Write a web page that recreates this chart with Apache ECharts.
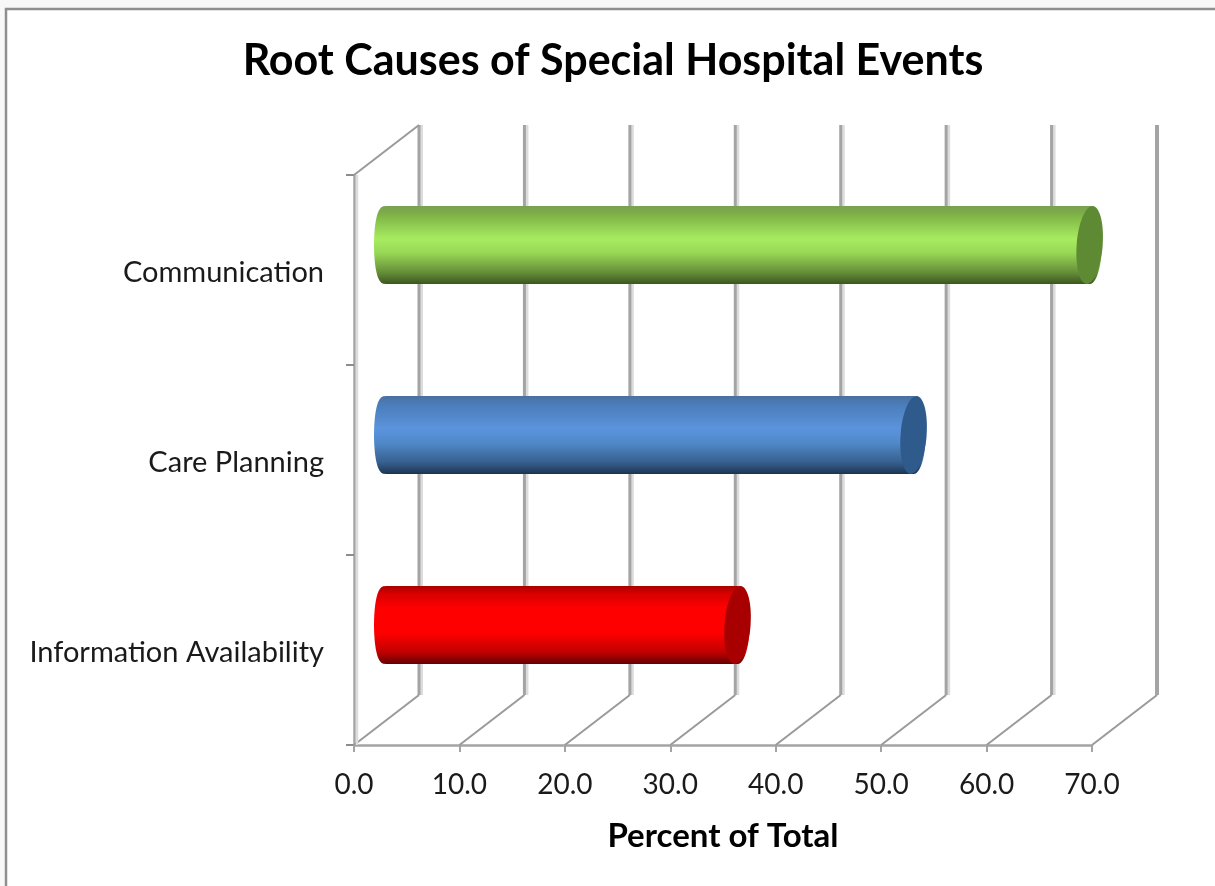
<!DOCTYPE html>
<html>
<head>
<meta charset="utf-8">
<title>Root Causes of Special Hospital Events</title>
<script src="https://cdn.jsdelivr.net/npm/echarts@6/dist/echarts.min.js"></script>
<style>
  html, body { margin: 0; padding: 0; background: #f8f8f9; }
  #chart { width: 1215px; height: 886px; }
</style>
</head>
<body>
<div id="chart"></div>
<script>
// Bottom-to-top order on the category axis
const categories = ['Information Availability', 'Care Planning', 'Communication'];
const percentOfTotal = [33.3, 50.0, 66.7];
const axisTicks = [0, 10, 20, 30, 40, 50, 60, 70];

const bodyStops = [
  [[0, '#a80000'], [0.1, '#d80000'], [0.28, '#ff0000'], [0.6, '#ff0000'], [0.85, '#c00000'], [1, '#650000']],
  [[0, '#4a719f'], [0.1, '#4a7cb8'], [0.42, '#5b94dd'], [0.6, '#5089c9'], [0.85, '#37608f'], [1, '#1c3350']],
  [[0, '#7a9f52'], [0.1, '#7cb044'], [0.42, '#a7ec60'], [0.6, '#98d856'], [0.85, '#668f39'], [1, '#3c561e']]
];
const capColors = ['#a80000', '#2f5a8c', '#5f8a34'];

// Oblique projection of the depth direction
const DEPTH_X = 65;
const DEPTH_Y = -50;
const BAR_HALF_HEIGHT = 39;
const CAP_RX = 13;

function renderWall(params, api) {
  const cs = params.coordSys;
  const bottom = cs.y + cs.height;
  const x = api.coord([api.value(0), 0])[0];
  const backX = x + DEPTH_X;
  const last = params.dataIndex === axisTicks.length - 1;
  const lineStyle = (stroke, w) => ({ stroke: stroke, lineWidth: w, fill: null });
  const children = [
    { type: 'line', shape: { x1: x, y1: bottom, x2: backX, y2: bottom + DEPTH_Y }, style: lineStyle('#9a9a9a', 2) }
  ];
  if (!last) {
    children.push({ type: 'line', shape: { x1: backX + 2.5, y1: cs.y + DEPTH_Y, x2: backX + 2.5, y2: bottom + DEPTH_Y }, style: lineStyle('#dcdcdc', 3) });
  }
  children.push({ type: 'line', shape: { x1: backX, y1: cs.y + DEPTH_Y, x2: backX, y2: bottom + DEPTH_Y }, style: lineStyle('#a4a4a4', last ? 4 : 3) });
  if (params.dataIndex === 0) {
    children.push({ type: 'line', shape: { x1: x, y1: cs.y, x2: backX, y2: cs.y + DEPTH_Y }, style: lineStyle('#9a9a9a', 2) });
    children.push({ type: 'line', shape: { x1: x + 3, y1: cs.y, x2: x + 3, y2: bottom }, style: lineStyle('#dcdcdc', 2.5) });
  }
  return { type: 'group', children: children };
}

function renderCylinder(params, api) {
  const i = params.dataIndex;
  const start = api.coord([0, api.value(1)]);
  const end = api.coord([api.value(0), api.value(1)]);
  const cy = start[1] + DEPTH_Y / 2;
  const x0 = start[0] + DEPTH_X / 2;
  const x1 = end[0] + DEPTH_X / 2;
  // Outline: straight top and bottom edges, far end hidden under the cap,
  // near end slightly squared off
  const points = [];
  const STEPS = 24;
  for (let s = 0; s <= STEPS; s++) {
    const a = -Math.PI / 2 + Math.PI * s / STEPS;
    points.push([x1 + 12 * Math.cos(a), cy + BAR_HALF_HEIGHT * Math.sin(a)]);
  }
  for (let s = 0; s <= STEPS; s++) {
    const a = Math.PI / 2 + Math.PI * s / STEPS;
    const c = Math.cos(a);
    points.push([x0 - 12.5 * Math.pow(Math.abs(c), 0.65), cy + BAR_HALF_HEIGHT * Math.sin(a)]);
  }
  return {
    type: 'group',
    children: [
      {
        type: 'polygon',
        shape: { points: points },
        style: {
          fill: new echarts.graphic.LinearGradient(0, 0, 0, 1,
            bodyStops[i].map(s => ({ offset: s[0], color: s[1] })))
        }
      },
      {
        type: 'ellipse',
        shape: { cx: x1, cy: cy, rx: CAP_RX, ry: BAR_HALF_HEIGHT },
        originX: x1,
        originY: cy,
        rotation: -0.08,
        style: { fill: capColors[i] }
      }
    ]
  };
}

const chart = echarts.init(document.getElementById('chart'));
chart.setOption({
  animation: false,
  backgroundColor: 'transparent',
  graphic: [{
    type: 'rect',
    z: -10,
    silent: true,
    shape: { x: 6, y: 9, width: 1400, height: 1100 },
    style: { fill: '#ffffff', stroke: '#8f8f8f', lineWidth: 2.5 }
  }],
  title: {
    text: 'Root Causes of Special Hospital Events',
    left: 608,
    top: 35,
    textAlign: 'center',
    textStyle: { fontFamily: 'Lato', fontWeight: 'bold', fontSize: 43, color: '#000000' }
  },
  grid: { left: 354, top: 175, width: 738, height: 570 },
  xAxis: {
    type: 'value',
    min: axisTicks[0],
    max: axisTicks[axisTicks.length - 1],
    interval: 10,
    splitLine: { show: false },
    axisLine: { show: true, lineStyle: { color: '#a4a4a4', width: 2.5 } },
    axisTick: { show: true, length: 7, lineStyle: { color: '#a4a4a4', width: 2 } },
    axisLabel: {
      margin: 26,
      fontFamily: 'Lato',
      fontSize: 28,
      color: '#1a1a1a',
      formatter: v => v.toFixed(1)
    },
    name: 'Percent of Total',
    nameLocation: 'center',
    nameGap: 75,
    nameTextStyle: { fontFamily: 'Lato', fontWeight: 'bold', fontSize: 33, color: '#000000' }
  },
  yAxis: {
    type: 'category',
    data: categories,
    splitLine: { show: false },
    axisLine: { show: true, lineStyle: { color: '#a4a4a4', width: 2.5 } },
    axisTick: { show: true, length: 8, lineStyle: { color: '#8c8c8c', width: 2 } },
    axisLabel: { margin: 30, fontFamily: 'Lato', fontSize: 29, color: '#1a1a1a', verticalAlign: 'top', lineHeight: 6 }
  },
  series: [
    {
      type: 'custom',
      name: 'Walls',
      silent: true,
      z: 1,
      renderItem: renderWall,
      data: axisTicks.map(v => [v, 0])
    },
    {
      type: 'custom',
      name: 'Percent of Total',
      z: 3,
      renderItem: renderCylinder,
      data: percentOfTotal.map((v, i) => [v, i])
    }
  ]
});
</script>
</body>
</html>
